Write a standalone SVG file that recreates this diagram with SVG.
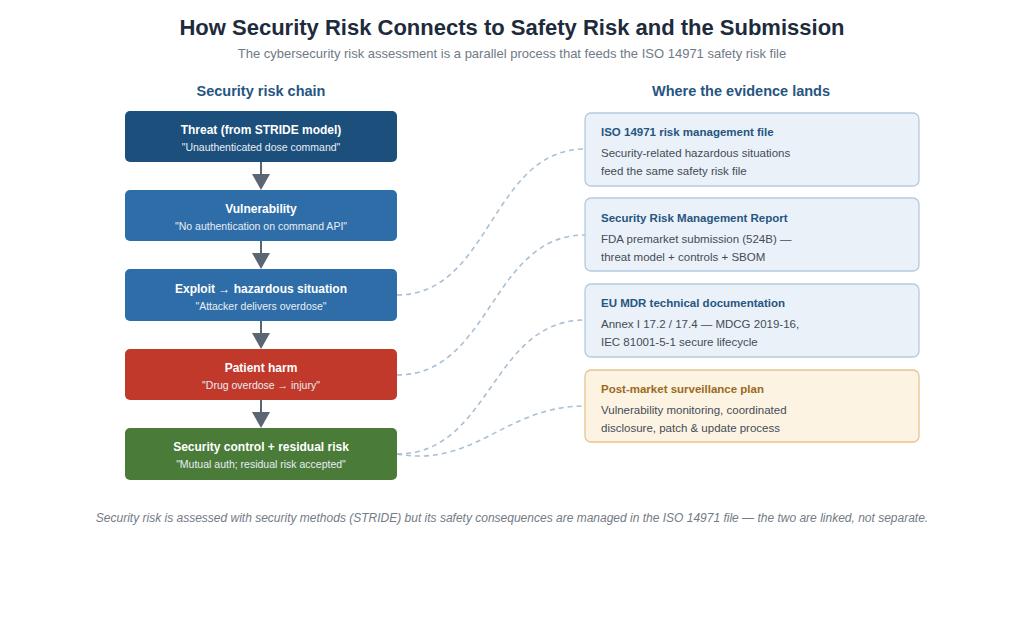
<svg xmlns="http://www.w3.org/2000/svg" width="1024" height="627" viewBox="0 0 1024 627">
<defs>
<style>
text{font-family:"Liberation Sans",Arial,sans-serif}
.title{font-size:22px;font-weight:bold;fill:#1e2b3c;text-anchor:middle}
.sub{font-size:13px;fill:#707a85;text-anchor:middle}
.sec{font-size:14.5px;font-weight:bold;fill:#275580;text-anchor:middle}
.lt{font-size:12px;font-weight:bold;fill:#ffffff;text-anchor:middle}
.ls{font-size:10.5px;fill:#e8eef5;text-anchor:middle}
.rbox{fill:#eaf1f9;stroke:#b6cadf;stroke-width:1.3}
.obox{fill:#fdf3e3;stroke:#e6c590;stroke-width:1.3}
.rt{font-size:11.5px;font-weight:bold;fill:#275580}
.ot{font-size:11.5px;font-weight:bold;fill:#9a6b1c}
.rb{font-size:11.5px;fill:#444c55}
.foot{font-size:12px;font-style:italic;fill:#737b85;text-anchor:middle}
.arr{stroke:#5b6675;stroke-width:2;fill:none}
.head{fill:#5b6675}
.dash{stroke:#a9bfd3;stroke-width:1.6;fill:none;stroke-dasharray:5,4}
</style>
</defs>
<rect width="1024" height="627" fill="#ffffff"/>
<text class="title" x="512" y="35">How Security Risk Connects to Safety Risk and the Submission</text>
<text class="sub" x="512" y="58">The cybersecurity risk assessment is a parallel process that feeds the ISO 14971 safety risk file</text>
<text class="sec" x="261" y="96">Security risk chain</text>
<text class="sec" x="741" y="96">Where the evidence lands</text>

<g id="connectors">
<line class="arr" x1="261" y1="162" x2="261" y2="176"/><polygon class="head" points="252,174 270,174 261,190"/>
<line class="arr" x1="261" y1="241" x2="261" y2="255"/><polygon class="head" points="252,253 270,253 261,269"/>
<line class="arr" x1="261" y1="321" x2="261" y2="335"/><polygon class="head" points="252,333 270,333 261,349"/>
<line class="arr" x1="261" y1="400" x2="261" y2="414"/><polygon class="head" points="252,412 270,412 261,428"/>
<path class="dash" d="M397,295 C491,295 491,149 585,149"/>
<path class="dash" d="M397,375 C491,375 491,235 585,235"/>
<path class="dash" d="M397,454 C491,454 491,320 585,320"/>
<path class="dash" d="M397,454 C475,468 505,406 585,406"/>
</g>

<g id="threat">
<rect x="125" y="111" width="272" height="51" rx="5" fill="#1c4f7c"/>
<text class="lt" x="261" y="134">Threat (from STRIDE model)</text>
<text class="ls" x="261" y="151">"Unauthenticated dose command"</text>
</g>
<g id="vulnerability">
<rect x="125" y="190" width="272" height="51" rx="5" fill="#2e6da7"/>
<text class="lt" x="261" y="213">Vulnerability</text>
<text class="ls" x="261" y="230">"No authentication on command API"</text>
</g>
<g id="exploit">
<rect x="125" y="269" width="272" height="52" rx="5" fill="#2e6da7"/>
<text class="lt" x="261" y="293">Exploit → hazardous situation</text>
<text class="ls" x="261" y="310">"Attacker delivers overdose"</text>
</g>
<g id="harm">
<rect x="125" y="349" width="272" height="51" rx="5" fill="#c0392b"/>
<text class="lt" x="261" y="372">Patient harm</text>
<text class="ls" x="261" y="389">"Drug overdose → injury"</text>
</g>
<g id="control">
<rect x="125" y="428" width="272" height="52" rx="5" fill="#4a7b39"/>
<text class="lt" x="261" y="451">Security control + residual risk</text>
<text class="ls" x="261" y="468">"Mutual auth; residual risk accepted"</text>
</g>

<g id="iso14971">
<rect class="rbox" x="585" y="113" width="334" height="73" rx="6"/>
<text class="rt" x="601" y="136">ISO 14971 risk management file</text>
<text class="rb" x="601" y="157">Security-related hazardous situations</text>
<text class="rb" x="601" y="175">feed the same safety risk file</text>
</g>
<g id="srmr">
<rect class="rbox" x="585" y="198" width="334" height="73" rx="6"/>
<text class="rt" x="601" y="222">Security Risk Management Report</text>
<text class="rb" x="601" y="243">FDA premarket submission (524B) —</text>
<text class="rb" x="601" y="261">threat model + controls + SBOM</text>
</g>
<g id="eumdr">
<rect class="rbox" x="585" y="284" width="334" height="73" rx="6"/>
<text class="rt" x="601" y="307">EU MDR technical documentation</text>
<text class="rb" x="601" y="328">Annex I 17.2 / 17.4 — MDCG 2019-16,</text>
<text class="rb" x="601" y="346">IEC 81001-5-1 secure lifecycle</text>
</g>
<g id="pms">
<rect class="obox" x="585" y="370" width="334" height="72" rx="6"/>
<text class="ot" x="601" y="393">Post-market surveillance plan</text>
<text class="rb" x="601" y="414">Vulnerability monitoring, coordinated</text>
<text class="rb" x="601" y="432">disclosure, patch &amp; update process</text>
</g>

<text class="foot" x="512" y="522">Security risk is assessed with security methods (STRIDE) but its safety consequences are managed in the ISO 14971 file — the two are linked, not separate.</text>
</svg>
